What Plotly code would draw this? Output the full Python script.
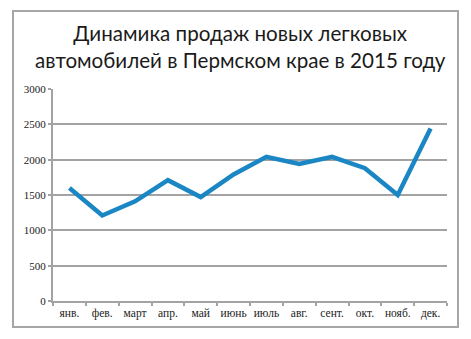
import plotly.graph_objects as go

months = ["янв.", "фев.", "март", "апр.", "май", "июнь", "июль", "авг.", "сент.", "окт.", "нояб.", "дек."]
sales = [1600, 1210, 1410, 1710, 1470, 1790, 2040, 1940, 2040, 1880, 1500, 2440]
y_ticks = [0, 500, 1000, 1500, 2000, 2500, 3000]

W, H = 471, 339
L, R, T, B = 53, 24, 89, 38
pw, ph = W - L - R, H - T - B

def px_x(x):
    return (x - L) / pw

def px_y(y):
    return (H - B - y) / ph

fig = go.Figure()
fig.add_trace(go.Scatter(
    x=months, y=sales, mode="lines",
    line=dict(color="#1a86c4", width=4.5),
    hoverinfo="skip",
))

grid = "#a3a3a3"
fig.update_layout(
    width=W, height=H,
    margin=dict(l=L, r=R, t=T, b=B),
    paper_bgcolor="white", plot_bgcolor="white",
    showlegend=False,
    title=dict(
        text="Динамика продаж новых легковых<br>автомобилей в Пермском крае в 2015 году",
        x=0.51, xanchor="center", y=1 - 41 / H, yanchor="middle",
        font=dict(family="Lato", size=20.6, color="#1a1a1a"),
    ),
    xaxis=dict(
        type="category", tickson="boundaries", range=[-0.5, 11.5],
        tickangle=0,
        showgrid=False, showline=True, linecolor=grid, linewidth=2,
        ticks="outside", ticklen=3, tickcolor=grid, tickwidth=2,
        tickfont=dict(family="Liberation Serif", size=11.5, color="#222222"),
        fixedrange=True,
    ),
    yaxis=dict(
        range=[0, 3000], tickvals=y_ticks,
        showgrid=True, gridcolor=grid, gridwidth=2,
        showline=True, linecolor=grid, linewidth=2,
        ticks="outside", ticklen=3, tickcolor=grid, tickwidth=2,
        zeroline=False,
        tickfont=dict(family="Liberation Serif", size=11, color="#222222"),
        fixedrange=True,
    ),
    shapes=[dict(
        type="rect", xref="paper", yref="paper",
        x0=px_x(13), x1=px_x(458), y0=px_y(327), y1=px_y(11),
        line=dict(color="#a6a6a6", width=2), fillcolor="rgba(0,0,0,0)",
        layer="below",
    )],
)

fig.write_html("out.html")
